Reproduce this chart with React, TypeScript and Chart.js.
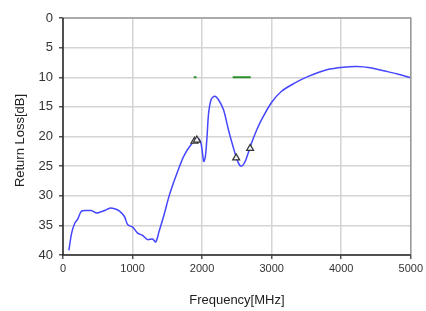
import React, { useEffect, useRef } from "react";
import { Chart, registerables } from "chart.js";

Chart.register(...registerables);

const freqMHz = [85, 124, 171, 209, 266, 361, 408, 479, 527, 598, 670, 741, 812, 883, 931, 1002, 1073, 1144, 1216, 1287, 1334, 1382, 1453, 1524, 1595, 1667, 1714, 1760, 1809, 1880, 1928, 1975, 1999, 2023, 2047, 2071, 2094, 2132, 2180, 2236, 2308, 2379, 2450, 2512, 2559, 2607, 2654, 2711, 2782, 2853, 2996, 3138, 3329, 3518, 3803, 4036, 4226, 4416, 4606, 4796, 5000];
const returnLoss = [39.2, 36.3, 34.6, 34.0, 32.6, 32.5, 32.5, 32.9, 32.8, 32.5, 32.1, 32.2, 32.6, 33.5, 34.9, 35.3, 36.3, 36.7, 37.4, 37.3, 37.8, 36.0, 33.2, 30.1, 27.6, 25.3, 23.9, 22.8, 21.9, 20.8, 20.3, 20.8, 22.2, 24.2, 23.4, 20.0, 16.0, 13.7, 13.2, 13.8, 15.5, 18.9, 21.9, 24.2, 25.0, 24.5, 23.1, 21.1, 19.0, 17.2, 14.3, 12.4, 11.0, 9.9, 8.7, 8.3, 8.2, 8.4, 8.9, 9.4, 10.1];

const markerFreq = [1890, 1925, 2490, 2690];
const markerLoss = [20.8, 20.6, 23.6, 22.0];

const specBand1 = [1880, 1920];
const specBand2 = [2440, 2700];
const specLevel = 10;

const xTicks = [0, 1000, 2000, 3000, 4000, 5000];
const yTicks = [0, 5, 10, 15, 20, 25, 30, 35, 40];

const xTitle = "Frequency[MHz]";
const yTitle = "Return Loss[dB]";

const FONT = "'Liberation Sans', Arial, sans-serif";

const borderPlugin = {
  id: "frameBorder",
  afterDraw(chart: any) {
    const { ctx, chartArea: a } = chart;
    ctx.save();
    ctx.strokeStyle = "#9a9a9a";
    ctx.lineWidth = 1.5;
    ctx.beginPath();
    ctx.moveTo(a.left, a.top);
    ctx.lineTo(a.right, a.top);
    ctx.lineTo(a.right, a.bottom);
    ctx.stroke();
    ctx.strokeStyle = "#222";
    ctx.beginPath();
    ctx.moveTo(a.left, a.top);
    ctx.lineTo(a.left, a.bottom);
    ctx.lineTo(a.right, a.bottom);
    ctx.stroke();
    // y axis title
    ctx.fillStyle = "#222";
    ctx.font = "13px " + FONT;
    ctx.textAlign = "center";
    ctx.textBaseline = "middle";
    ctx.translate(20, (a.top + a.bottom) / 2 + 4);
    ctx.rotate(-Math.PI / 2);
    ctx.fillText(yTitle, 0, 0);
    ctx.restore();
  },
};

export default function App() {
  const ref = useRef<HTMLCanvasElement>(null);
  useEffect(() => {
    document.body.style.margin = "0";
    const chart = new Chart(ref.current!, {
      type: "line",
      data: {
        datasets: [
          {
            label: "Return Loss",
            data: freqMHz.map((f, i) => ({ x: f, y: returnLoss[i] })),
            borderColor: "#4646ff",
            borderWidth: 1.5,
            pointRadius: 0,
            tension: 0.3,
            order: 2,
          },
          {
            label: "Markers",
            data: markerFreq.map((f, i) => ({ x: f, y: markerLoss[i] })),
            showLine: false,
            pointStyle: "triangle",
            pointRadius: 4,
            pointBackgroundColor: "rgba(255,255,255,0.9)",
            pointBorderColor: "#333",
            pointBorderWidth: 1.2,
            order: 1,
          },
          {
            label: "Spec1",
            data: specBand1.map((f) => ({ x: f, y: specLevel })),
            borderColor: "#2a8f2a",
            borderWidth: 2,
            pointRadius: 0,
          },
          {
            label: "Spec2",
            data: specBand2.map((f) => ({ x: f, y: specLevel })),
            borderColor: "#2a8f2a",
            borderWidth: 2,
            pointRadius: 0,
          },
        ],
      },
      options: {
        animation: false,
        responsive: false,
        layout: { padding: { left: 0, right: 12, top: 18, bottom: 0 } },
        plugins: { legend: { display: false }, tooltip: { enabled: false } },
        scales: {
          x: {
            type: "linear",
            min: 0,
            max: 5000,
            afterBuildTicks: (s: any) => {
              s.ticks = xTicks.map((v) => ({ value: v }));
            },
            afterFit: (s: any) => {
              s.height = 56;
            },
            ticks: {
              font: { family: FONT, size: 11 },
              color: "#333",
              padding: 3,
              maxRotation: 0,
              callback: (v: any) => String(v),
            },
            grid: { color: "#d4d4d4", lineWidth: 1.5, tickLength: 4, tickColor: "#555" },
            border: { display: false },
            title: {
              display: true,
              text: xTitle,
              font: { family: FONT, size: 13 },
              color: "#222",
              padding: { top: 0, bottom: 3 },
            },
          },
          y: {
            type: "linear",
            reverse: true,
            min: 0,
            max: 40,
            afterBuildTicks: (s: any) => {
              s.ticks = yTicks.map((v) => ({ value: v }));
            },
            afterFit: (s: any) => {
              s.width = 63;
            },
            ticks: { font: { family: FONT, size: 13 }, color: "#333", padding: 6 },
            grid: { color: "#d4d4d4", lineWidth: 1.5, tickLength: 4, tickColor: "#555" },
            border: { display: false },
            title: { display: false },
          },
        },
      },
      plugins: [borderPlugin],
    } as any);
    return () => chart.destroy();
  }, []);
  return (
    <div style={{ position: "absolute", left: 0, top: 0, width: 426, height: 311, background: "#fff" }}>
      <canvas ref={ref} width={426} height={311} />
    </div>
  );
}
